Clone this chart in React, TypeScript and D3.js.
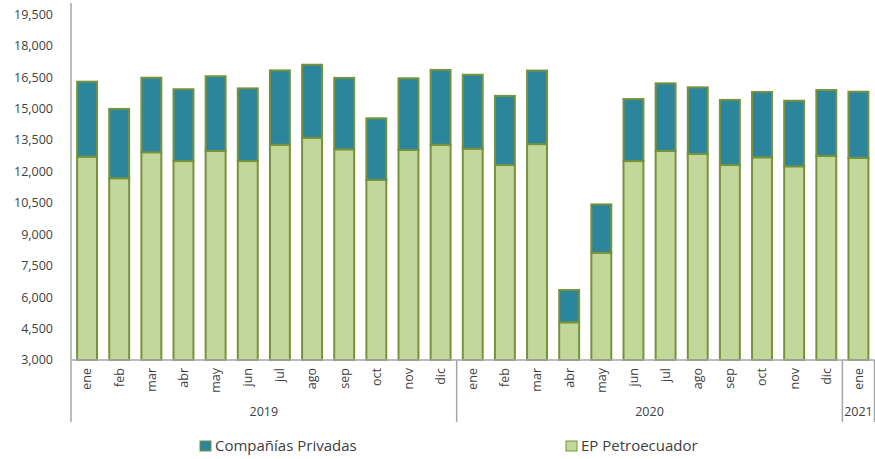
import React from "react";
import * as d3 from "d3";

const months = ["ene","feb","mar","abr","may","jun","jul","ago","sep","oct","nov","dic","ene","feb","mar","abr","may","jun","jul","ago","sep","oct","nov","dic","ene"];
const years = [
  { label: "2019", start: 0, count: 12 },
  { label: "2020", start: 12, count: 12 },
  { label: "2021", start: 24, count: 1 },
];
const petroecuador = [12710,11680,12920,12500,12980,12500,13280,13610,13060,11600,13030,13280,13090,12310,13310,4800,8120,12500,12980,12840,12310,12680,12250,12740,12650];
const totals = [16290,14990,16480,15930,16550,15970,16830,17100,16470,14540,16450,16850,16620,15610,16820,6340,10430,15460,16210,16020,15420,15800,15380,15890,15810];
const privadas = totals.map((t, i) => t - petroecuador[i]);
const yTicks = [3000,4500,6000,7500,9000,10500,12000,13500,15000,16500,18000,19500];
const seriesNames = ["Compañías Privadas", "EP Petroecuador"];

const W = 875, H = 459;
const left = 71, right = 874.5, top = 4, bottom = 360;
const FONT = "'Open Sans', sans-serif";
const TEAL = "#2B859D";
const LIGHT = "#C4D79B";
const OLIVE = "#76923C";
const AXIS = "#A6A6A6";

export default function App() {
  const x = d3.scaleBand<number>().domain(d3.range(months.length)).range([left, right]).paddingInner(0.38).paddingOuter(0.19);
  const y = d3.scaleLinear().domain([3000, 20000]).range([bottom, top]);
  const fmt = d3.format(",");
  const step = x.step();
  const bw = x.bandwidth();
  const boundary = (i: number) => left + i * step;
  return (
    <svg width={W} height={H} style={{ position: "absolute", left: 0, top: 0 }} fontFamily={FONT}>
      <rect width={W} height={H} fill="#fff" />
      {months.map((m, i) => {
        const x0 = x(i)!;
        return (
          <g key={i}>
            <rect x={x0} y={y(petroecuador[i])} width={bw} height={y(3000) - y(petroecuador[i])} fill={LIGHT} stroke={OLIVE} strokeWidth={2} />
            <rect x={x0} y={y(totals[i])} width={bw} height={y(petroecuador[i]) - y(totals[i])} fill={TEAL} stroke={OLIVE} strokeWidth={2} />
          </g>
        );
      })}
      <line x1={left} x2={left} y1={3} y2={422} stroke={AXIS} strokeWidth={1.5} />
      {yTicks.map((t) => (
        <text key={t} x={53} y={y(t)} dy="0.35em" textAnchor="end" fontSize={12.5} fill="#404040">{fmt(t)}</text>
      ))}
      <line x1={left} x2={right} y1={bottom} y2={bottom} stroke={AXIS} strokeWidth={1.5} />
      {[12, 24, 25].map((b) => (
        <line key={b} x1={boundary(b)} x2={boundary(b)} y1={bottom} y2={422} stroke={AXIS} strokeWidth={1.5} />
      ))}
      {months.map((m, i) => {
        const cx = x(i)! + bw / 2;
        return (
          <text key={i} transform={`translate(${cx},368) rotate(-90)`} textAnchor="end" dy="0.35em" fontSize={12.5} fill="#404040">{m}</text>
        );
      })}
      {years.map((yr) => (
        <text key={yr.label} x={boundary(yr.start) + (yr.count * step) / 2} y={412} dy="0.35em" textAnchor="middle" fontSize={12.5} fill="#404040">{yr.label}</text>
      ))}
      <g transform="translate(200,441)">
        <rect x={0} y={0} width={11} height={10} fill={TEAL} stroke={OLIVE} strokeWidth={1} />
        <text x={15} y={5} dy="0.35em" fontSize={15} fill="#404040">{seriesNames[0]}</text>
      </g>
      <g transform="translate(566,441)">
        <rect x={0} y={0} width={11} height={10} fill={LIGHT} stroke={OLIVE} strokeWidth={1} />
        <text x={15} y={5} dy="0.35em" fontSize={15} fill="#404040">{seriesNames[1]}</text>
      </g>
    </svg>
  );
}
